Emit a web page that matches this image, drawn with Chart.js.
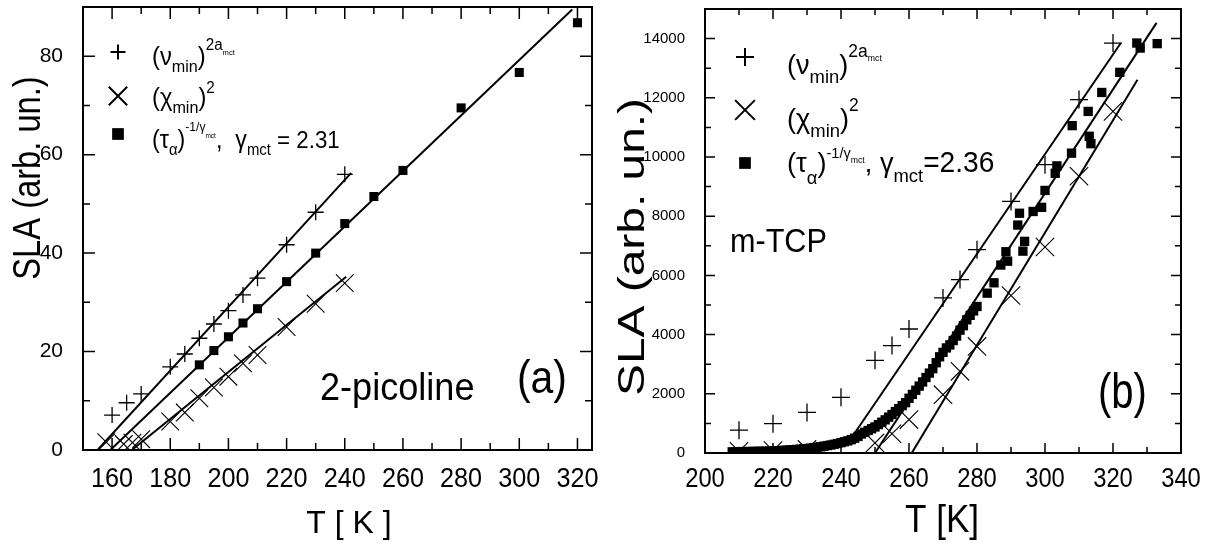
<!DOCTYPE html>
<html><head><meta charset="utf-8">
<script src="https://cdn.jsdelivr.net/npm/chart.js@4.4.1/dist/chart.umd.min.js"></script>
<style>
html,body{margin:0;padding:0;background:#fff;}
#wrap{position:relative;width:1210px;height:544px;overflow:hidden;background:#fff;}
#ca{position:absolute;left:0;top:0;}
#cb{position:absolute;left:600px;top:0;}
</style></head><body>
<div id="wrap"><canvas id="ca" width="600" height="544"></canvas><canvas id="cb" width="610" height="544"></canvas></div>
<script>
// ---------- Panel (a): 2-picoline ----------
const aNuT  = [160, 165, 170, 180, 185, 190, 195, 200, 205, 210, 220, 230, 240];
const aNuV  = [7.1, 9.6, 11.4, 16.9, 19.5, 22.7, 25.6, 28.3, 31.5, 34.9, 41.7, 48.3, 56.0];
const aChiT = [158, 164, 167, 170, 180, 185, 190, 195, 200, 205, 210, 220, 230, 240];
const aChiV = [1.6, 1.2, 1.5, 2.2, 5.8, 7.6, 10.5, 12.7, 14.9, 17.6, 19.3, 25.0, 29.7, 33.9];
const aTauT = [190, 195, 200, 205, 210, 220, 230, 240, 250, 260, 280, 300, 320];
const aTauV = [17.3, 20.2, 23.0, 25.8, 28.7, 34.2, 40.0, 46.0, 51.5, 56.8, 69.5, 76.7, 86.8];
const aNuFitT  = [155, 242.2];   const aNuFitV  = [0, 56.3];
const aTauFitT = [159.4, 318.2]; const aTauFitV = [0, 89.5];
const aChiFitT = [166.8, 240.5]; const aChiFitV = [0, 35.2];
const aXTicks = [160, 180, 200, 220, 240, 260, 280, 300, 320];
const aYTicks = [0, 20, 40, 60, 80];

// ---------- Panel (b): m-TCP ----------
const bNuT  = [210, 220, 230, 240, 250, 255, 260, 270, 275, 280, 290, 300, 310, 320];
const bNuV  = [770, 990, 1370, 1880, 3130, 3630, 4190, 5240, 5860, 6870, 8500, 9740, 11940, 13850];
const bChiT = [210, 220, 230, 250, 255, 260, 270, 275, 280, 290, 300, 310, 320];
const bChiV = [60, 80, 120, 340, 650, 1130, 1970, 2760, 3600, 5320, 6960, 9350, 11540];
const bTauT = [208, 209, 210, 211, 212, 213, 214, 215, 216, 217, 218, 219, 220, 221, 222, 223, 224, 225,
  226, 227, 228, 229, 230, 231, 232, 233, 234, 235, 236, 237, 238, 239, 240, 241, 242, 243, 244, 245,
  246, 247, 248, 249, 250, 251, 252, 253, 254, 255, 256, 257, 258, 259, 260, 261, 262, 263, 264, 265,
  266, 267, 268, 269, 270, 271, 272, 273, 274, 275, 276, 277, 278, 279, 280, 283, 285, 287, 288.5,
  289, 292, 292.5, 293.5, 294, 296.5, 299, 300, 303, 303.5, 307.8, 308, 312.7, 313, 313.5, 316.7,
  322, 327, 328, 333];
const bTauV = [40, 45, 40, 50, 45, 50, 55, 50, 60, 55, 60, 65, 70, 70, 80, 90, 95, 105,
  110, 120, 130, 140, 150, 165, 180, 195, 210, 230, 250, 270, 295, 320, 350, 380, 410, 450, 500, 560,
  640, 700, 760, 820, 880, 960, 1040, 1120, 1210, 1300, 1400, 1500, 1600, 1700, 1850, 1980, 2120, 2260, 2400, 2550,
  2700, 2850, 3050, 3250, 3400, 3550, 3650, 3800, 3950, 4150, 4300, 4500, 4650, 4800, 4950, 5400, 5750, 6350, 6800,
  6480, 7700, 8100, 6820, 7150, 8160, 8300, 8870, 9450, 9700, 10130, 11060, 11540, 10700, 10450, 12180,
  12860, 13850, 13680, 13830];
const bNuFitT  = [243.6, 322.3]; const bNuFitV  = [600, 13850];
const bTauFitT = [250, 332.8];   const bTauFitV = [0, 14530];
const bChiFitT = [260.8, 327.2]; const bChiFitV = [0, 12610];
const bXTicks = [200, 220, 240, 260, 280, 300, 320, 340];
const bYTicks = [0, 2000, 4000, 6000, 8000, 10000, 12000, 14000];

// ---------- helpers ----------
const FF = '"Liberation Sans", Arial, sans-serif';

const pts = (xs, ys) => xs.map((x, i) => ({x: x, y: ys[i]}));
const filt = step => axis => { axis.ticks = axis.ticks.filter(t => Math.abs(t.value / step - Math.round(t.value / step)) < 1e-9); };
const lbl = list => v => list.includes(v) ? String(v) : '';

function rich(ctx, x, y, segs, sx) {
  segs.forEach(s => {
    ctx.font = s[1] + 'px ' + FF;
    ctx.save(); ctx.translate(x, y + (s[2] || 0)); ctx.scale(sx, 1);
    ctx.fillText(s[0], 0, 0); ctx.restore();
    x += ctx.measureText(s[0]).width * sx;
  });
}
function txt(ctx, s, x, y, size, sx, align, rot) {
  ctx.save(); ctx.font = size + 'px ' + FF; ctx.textAlign = align || 'left'; ctx.textBaseline = 'alphabetic';
  ctx.translate(x, y); if (rot) ctx.rotate(rot); ctx.scale(sx, 1); ctx.fillText(s, 0, 0); ctx.restore();
}
function framePlugin(o) {
  return { id: 'frame', afterDraw(chart) {
    const ctx = chart.ctx, a = chart.chartArea, xs = chart.scales.x, ys = chart.scales.y;
    ctx.save(); ctx.strokeStyle = '#000'; ctx.fillStyle = '#000';
    ctx.lineWidth = o.tickW;
    ctx.beginPath();
    xs.ticks.forEach(t => {
      if (t.value <= xs.min || t.value >= xs.max) return;
      const p = xs.getPixelForValue(t.value), L = o.xMajor.includes(t.value) ? o.major : o.minor;
      ctx.moveTo(p, a.bottom); ctx.lineTo(p, a.bottom - L);
      ctx.moveTo(p, a.top); ctx.lineTo(p, a.top + L);
    });
    ys.ticks.forEach(t => {
      if (t.value <= ys.min || t.value >= ys.max) return;
      const p = ys.getPixelForValue(t.value), L = o.yMajor.includes(t.value) ? o.major : o.minor;
      ctx.moveTo(a.left, p); ctx.lineTo(a.left + L, p);
      ctx.moveTo(a.right, p); ctx.lineTo(a.right - L, p);
    });
    ctx.stroke();
    ctx.lineWidth = o.frameW;
    ctx.strokeRect(a.left, a.top, a.right - a.left, a.bottom - a.top);
    // x tick labels placed through the x scale
    o.xMajor.forEach(v => txt(ctx, String(v), xs.getPixelForValue(v), o.xLabY, o.xLabSize, o.xLabSx, 'center'));
    o.draw(ctx);
    ctx.restore();
  }};
}
function marker(ctx, style, r, w, x, y) { Chart.helpers.drawPoint(ctx, {pointStyle: style, radius: r, borderWidth: w, rotation: 0}, x, y); }

function scatterSet(xs, ys, style, r, w) {
  return {data: pts(xs, ys), showLine: false, pointStyle: style, pointRadius: r, pointBorderWidth: w,
    pointBorderColor: '#000', pointBackgroundColor: '#000', borderColor: '#000', backgroundColor: '#000'};
}
function lineSet(xs, ys) {
  return {data: pts(xs, ys), showLine: true, pointRadius: 0, borderColor: '#000', borderWidth: 2, fill: false};
}
const noPadY = w => s => { s.width = w; s.paddingTop = 0; s.paddingBottom = 0; };
const noPadX = h => s => { s.height = h; s.paddingLeft = 0; s.paddingRight = 0; };
// nudge the layout padding so the plot area lands where the reference has it
function fixArea(chart, want) {
  for (let i = 0; i < 4; i++) {
    const a = chart.chartArea, p = chart.options.layout.padding;
    const dt = want.top - a.top, dr = a.right - want.right;
    if (Math.abs(dt) < 0.5 && Math.abs(dr) < 0.5) break;
    p.top += dt; p.right += dr;
    chart.update('none');
  }
}

// ---------- Chart (a) ----------
const chartA = new Chart(document.getElementById('ca'), {
  type: 'scatter',
  data: { datasets: [
    lineSet(aNuFitT, aNuFitV), lineSet(aTauFitT, aTauFitV), lineSet(aChiFitT, aChiFitV),
    scatterSet(aNuT, aNuV, 'cross', 8, 1.3),
    scatterSet(aChiT, aChiV, 'crossRot', 12.5, 1.1),
    scatterSet(aTauT, aTauV, 'rect', 6.4, 0)
  ]},
  options: {
    responsive: false, animation: false, devicePixelRatio: 1,
    layout: {autoPadding: false, padding: {top: 7, right: 8, left: 0, bottom: 0}},
    plugins: {legend: {display: false}, tooltip: {enabled: false}},
    scales: {
      x: {type: 'linear', min: 150, max: 325, afterBuildTicks: filt(10), afterFit: noPadX(94),
        grid: {display: false}, border: {display: false},
        ticks: {display: false, stepSize: 10, includeBounds: false, autoSkip: false}},
      y: {type: 'linear', min: 0, max: 90, afterBuildTicks: filt(10), afterFit: noPadY(83),
        grid: {display: false}, border: {display: false},
        ticks: {stepSize: 10, autoSkip: false, padding: 12, color: '#000', font: {family: FF, size: 21}, callback: lbl(aYTicks)}}
    }
  },
  plugins: [framePlugin({tickW: 1.5, frameW: 2, major: 12, minor: 7, xMajor: aXTicks, yMajor: aYTicks,
    xLabY: 487, xLabSize: 28, xLabSx: 0.9, draw(ctx) {
    ctx.fillStyle = '#000'; ctx.strokeStyle = '#000';
    marker(ctx, 'cross', 7.5, 1.3, 118, 52);
    marker(ctx, 'crossRot', 13, 1.3, 118, 96);
    marker(ctx, 'rect', 8.3, 0, 118, 134);
    rich(ctx, 152, 65, [['(\u03BD', 25], ['min', 17, 7], [')', 25], ['2a', 16, -15], ['mct', 8, -10]], 0.95);
    rich(ctx, 152, 106, [['(\u03C7', 25], ['min', 17, 7], [')', 25], ['2', 16, -13]], 0.95);
    rich(ctx, 152, 148, [['(\u03C4', 25], ['\u03B1', 16, 7], [')', 25], ['-1/\u03B3', 13, -17], ['mct', 7, -10],
      [',  \u03B3', 25], ['mct', 16, 7], [' = 2.31', 24]], 0.93);
    txt(ctx, '2-picoline', 320, 400, 38, 0.95, 'left');
    txt(ctx, '(a)', 517, 393, 47, 0.87, 'left');
    txt(ctx, 'T [ K ]', 349, 533, 32, 1, 'center');
    txt(ctx, 'SLA (arb. un.)', 40, 178, 38, 0.86, 'center', -Math.PI / 2);
  }})]
});
fixArea(chartA, {top: 7, right: 592});

// ---------- Chart (b) ----------
const chartB = new Chart(document.getElementById('cb'), {
  type: 'scatter',
  data: { datasets: [
    lineSet(bNuFitT, bNuFitV), lineSet(bTauFitT, bTauFitV), lineSet(bChiFitT, bChiFitV),
    scatterSet(bNuT, bNuV, 'cross', 9, 1.3),
    scatterSet(bChiT, bChiV, 'crossRot', 13, 1.1),
    scatterSet(bTauT, bTauV, 'rect', 6.6, 0)
  ]},
  options: {
    responsive: false, animation: false, devicePixelRatio: 1,
    layout: {autoPadding: false, padding: {top: 9, right: 29, left: 0, bottom: 0}},
    plugins: {legend: {display: false}, tooltip: {enabled: false}},
    scales: {
      x: {type: 'linear', min: 200, max: 340, afterBuildTicks: filt(10), afterFit: noPadX(91),
        grid: {display: false}, border: {display: false},
        ticks: {display: false, stepSize: 10, includeBounds: false, autoSkip: false}},
      y: {type: 'linear', min: 0, max: 15000, afterBuildTicks: filt(1000), afterFit: noPadY(105),
        grid: {display: false}, border: {display: false},
        ticks: {stepSize: 1000, autoSkip: false, padding: 12, color: '#000', font: {family: FF, size: 15}, callback: lbl(bYTicks)}}
    }
  },
  plugins: [framePlugin({tickW: 1.5, frameW: 2, major: 10, minor: 6, xMajor: bXTicks, yMajor: bYTicks,
    xLabY: 487, xLabSize: 27, xLabSx: 0.88, draw(ctx) {
    ctx.fillStyle = '#000'; ctx.strokeStyle = '#000';
    marker(ctx, 'cross', 9, 1.3, 145, 57);
    marker(ctx, 'crossRot', 14, 1.3, 145, 110);
    marker(ctx, 'rect', 8.3, 0, 145, 163);
    rich(ctx, 187, 74, [['(\u03BD', 28], ['min', 19, 9], [')', 28], ['2a', 18, -17], ['mct', 9, -13]], 0.97);
    rich(ctx, 187, 128, [['(\u03C7', 28], ['min', 19, 9], [')', 28], ['2', 18, -17]], 0.97);
    rich(ctx, 187, 172, [['(\u03C4', 28], ['\u03B1', 19, 12], [')', 28], ['-1/\u03B3', 15, -14], ['mct', 9, -9],
      [', \u03B3', 28], ['mct', 19, 10], ['=2.36', 29]], 0.97);
    txt(ctx, 'm-TCP', 130, 252, 34, 0.9, 'left');
    txt(ctx, '(b)', 498, 408, 50, 0.8, 'left');
    txt(ctx, 'T [K]', 342, 532, 39, 0.9, 'center');
    txt(ctx, 'SLA (arb. un.)', 44, 247, 36, 1.33, 'center', -Math.PI / 2);
  }})]
});
fixArea(chartB, {top: 9, right: 581});
</script>
</body></html>
